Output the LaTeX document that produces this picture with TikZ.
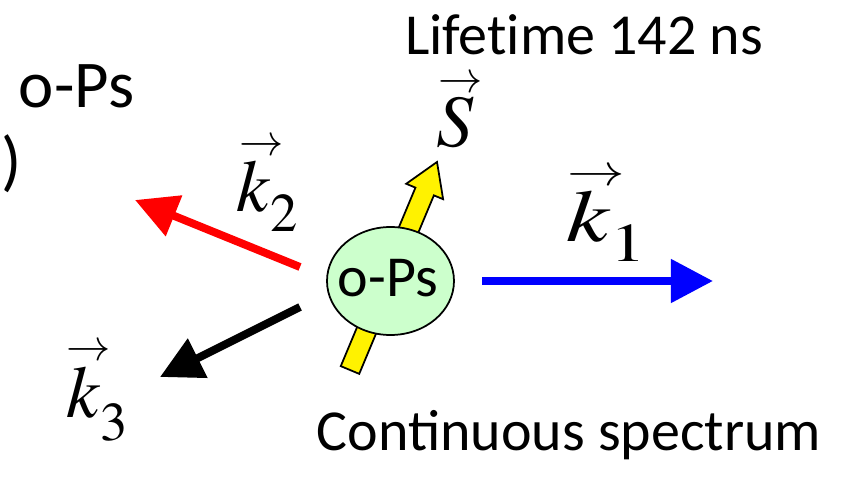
\documentclass[tikz,border=0pt]{standalone}
\usepackage{mathptmx}
\usepackage[no-math]{fontspec}
\setmainfont{Carlito}
\usetikzlibrary{arrows.meta,shapes.geometric}

\definecolor{opsgreen}{HTML}{CCFFCC}
% small arrow set above a symbol, nudged to the right
\newcommand{\arrowvec}[2][8pt]{\mathord{\setbox0\hbox{$#2$}\vbox{\offinterlineskip
    \hbox to\wd0{\hss\kern#1$\scriptscriptstyle\rightarrow$\hss}\kern3pt\box0}}}
% subscript sitting a bit lower
\newcommand{\lowsub}[2][5pt]{_{\lower#1\hbox{$\scriptstyle#2$}}}

\tikzset{
  plain text/.style={font=\fontsize{33}{38}\selectfont, anchor=base, inner sep=0pt},
  big text/.style={font=\fontsize{38}{44}\selectfont, anchor=base, inner sep=0pt},
  vec label/.style={font=\fontsize{42}{50}\selectfont, anchor=base, inner sep=0pt},
  photon/.style={line width=4.5pt, -{Triangle[length=24pt,width=24pt]}},
  spin/.style={draw=black, line width=1pt, fill=yellow},
}

\begin{document}
\begin{tikzpicture}
    \useasboundingbox (0,0) rectangle (16.82,9.52);

    % header texts
    \node[plain text] (life) at (11.68,8.42) {Lifet\kern0pt ime 142 ns};
    \node[big text] (oldname) at (1.53,7.36) {o-Ps};
    \node[big text] (paren) at (0.24,5.84) {)};
    \node[plain text] (spec) at (11.38,0.52) {Continuous spect\kern0pt rum};

    % spin arrow, partly hidden by the atom
    \draw[spin, shift={(7,2.12)}, rotate=67.3]
        (0,-0.2) -- (3.87,-0.2) -- (3.87,-0.4) -- (4.51,0)
        -- (3.87,0.4) -- (3.87,0.2) -- (0,0.2) -- cycle;
    \node[vec label] (spinlab) at (9.1,6.58) {$\arrowvec[6pt]{S}$};

    % positronium
    \node[ellipse, draw, line width=1pt, fill=opsgreen, minimum width=2.54cm,
          minimum height=2.16cm] (ops) at (7.81,3.90) {};
    \node[plain text] (opsname) at (7.76,3.58) {o-Ps};

    % three photons
    \coordinate (k1tail) at (9.64,3.90);
    \coordinate (k1tip) at (14.26,3.90);
    \coordinate (k2tail) at (6.00,4.18);
    \coordinate (k2tip) at (2.70,5.52);
    \coordinate (k3tail) at (6.00,3.38);
    \coordinate (k3tip) at (3.20,1.98);
    \draw[photon, blue] (k1tail) -- (k1tip);
    \draw[photon, red] (k2tail) -- (k2tip);
    \draw[photon, black] (k3tail) -- (k3tip);

    \node[vec label] (k1lab) at (12.14,4.68) {\scalebox{1.3}[1]{$\arrowvec[7pt]{k}\lowsub{1}$}};
    \node[vec label] (k2lab) at (5.36,5.28) {$\arrowvec[9pt]{k}\lowsub{2}$};
    \node[vec label] (k3lab) at (1.96,1.18) {$\arrowvec[5pt]{k}\lowsub[7pt]{3}$};
\end{tikzpicture}
\end{document}
